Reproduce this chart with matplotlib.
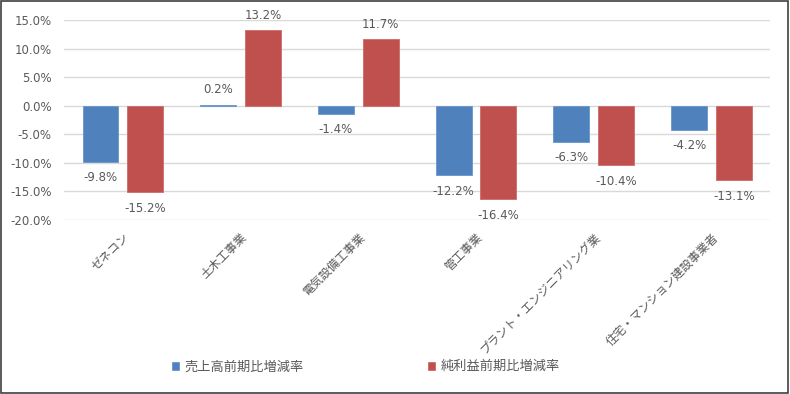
import matplotlib.pyplot as plt
import numpy as np
from matplotlib.patches import Rectangle
from matplotlib.ticker import FuncFormatter, MultipleLocator

plt.rcParams["font.family"] = ["Noto Sans CJK JP", "DejaVu Sans"]

categories = ["ゼネコン", "土木工事業", "電気設備工事業", "管工事業",
              "プラント・エンジニアリング業", "住宅・マンション建設事業者"]
sales = [-9.8, 0.2, -1.4, -12.2, -6.3, -4.2]
profit = [-15.2, 13.2, 11.7, -16.4, -10.4, -13.1]
series_names = ["売上高前期比増減率", "純利益前期比増減率"]

blue = "#4f81bd"
red = "#c0504d"
text_col = "#595959"

fig = plt.figure(figsize=(7.9, 3.94), dpi=100)
ax = fig.add_axes([0.081, 0.442, 0.894, 0.507])

x = np.arange(len(categories))
w = 0.305
off = 0.19
b1 = ax.bar(x - off, sales, w, color=blue, edgecolor="#6a96cc", linewidth=0.6,
            label=series_names[0], zorder=3)
b2 = ax.bar(x + off, profit, w, color=red, edgecolor="#d06a67", linewidth=0.6,
            label=series_names[1], zorder=3)

# data labels above positive bars, below negative ones
for bars, vals in ((b1, sales), (b2, profit)):
    for rect, v in zip(bars, vals):
        cx = rect.get_x() + rect.get_width() / 2
        if v >= 0:
            ax.annotate(f"{v:.1f}%", (cx, v), xytext=(0, 6), textcoords="offset points",
                        ha="center", va="bottom", fontsize=8.5, color=text_col,
                        family="DejaVu Sans")
        else:
            ax.annotate(f"{v:.1f}%", (cx, v), xytext=(0, -7), textcoords="offset points",
                        ha="center", va="top", fontsize=8.5, color=text_col,
                        family="DejaVu Sans")

ax.set_xlim(-0.5, len(categories) - 0.5)
ax.set_ylim(-20, 15)
ax.yaxis.set_major_locator(MultipleLocator(5))
ax.yaxis.set_major_formatter(FuncFormatter(lambda v, p: f"{v:.1f}%"))
ax.grid(axis="y", color="#d9d9d9", linewidth=1, zorder=0)
for s in ax.spines.values():
    s.set_visible(False)
ax.tick_params(axis="y", length=0, labelsize=8.5, labelcolor=text_col, pad=9)
ax.tick_params(axis="x", length=0, pad=8)
ax.set_xticks(x)
ax.set_xticklabels(categories, rotation=45, ha="right", rotation_mode="anchor",
                   fontsize=8.5, color=text_col)
for lab in ax.get_yticklabels():
    lab.set_family("DejaVu Sans")

fig.legend(handles=[b1, b2], labels=series_names, loc="center", ncol=2,
           bbox_to_anchor=(0.463, 0.069), frameon=False, fontsize=9.5,
           handlelength=0.55, handleheight=0.55, handletextpad=0.4,
           columnspacing=9.4, labelcolor=text_col)

fig.patches.append(Rectangle((0.001, 0.002), 0.997, 0.995, transform=fig.transFigure,
                             fill=False, edgecolor="#404040", linewidth=1.2))

fig.savefig("out.png", dpi=100)
